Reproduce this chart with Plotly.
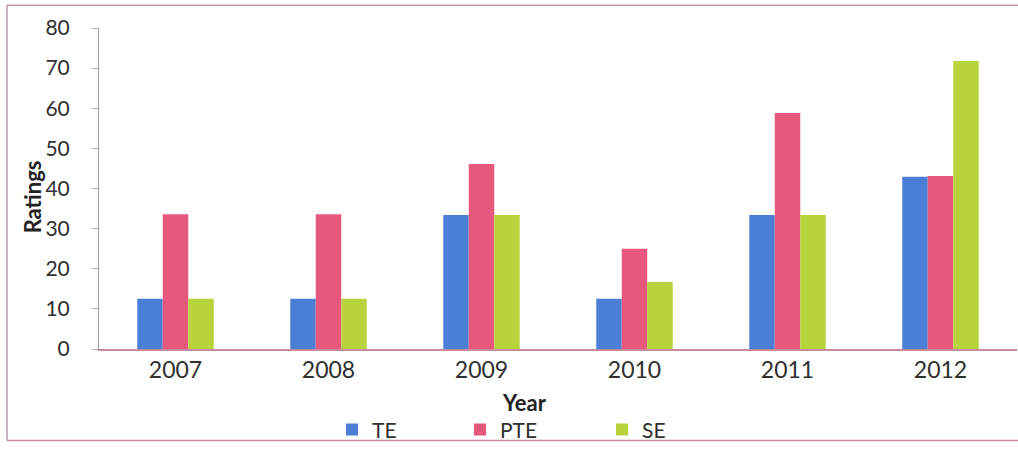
import plotly.graph_objects as go

years = ["2007", "2008", "2009", "2010", "2011", "2012"]
te = [12.5, 12.5, 33.4, 12.5, 33.4, 42.9]
pte = [33.6, 33.6, 46.1, 25.0, 58.8, 43.1]
se = [12.5, 12.5, 33.4, 16.7, 33.4, 71.8]
y_ticks = [0, 10, 20, 30, 40, 50, 60, 70, 80]

FONT = "Lato"
TXT = "#2f2f2f"

L, R, T, B = 99, 1, 28, 97
PW, PH = 1018 - L - R, 451 - T - B


def px(x):
    return (x - L) / PW


def py(y):
    return (451 - B - y) / PH


fig = go.Figure()
fig.add_trace(go.Bar(name="TE", x=years, y=te, marker=dict(color="#4b7fd5", line_width=0), legend="legend"))
fig.add_trace(go.Bar(name="PTE", x=years, y=pte, marker=dict(color="#e8587c", line_width=0), legend="legend2"))
fig.add_trace(go.Bar(name="SE", x=years, y=se, marker=dict(color="#b7d43c", line_width=0), legend="legend3"))

leg_common = dict(orientation="h", yanchor="middle", y=py(436), xanchor="left",
                  font=dict(family=FONT, size=21, color=TXT), bgcolor="rgba(0,0,0,0)",
                  itemwidth=30, borderwidth=0)

fig.update_layout(
    width=1018, height=451,
    margin=dict(l=L, r=R, t=T, b=B),
    paper_bgcolor="white", plot_bgcolor="white",
    barmode="group", bargap=0.5, bargroupgap=0,
    font=dict(family=FONT, color=TXT),
    showlegend=True,
    legend=dict(x=px(332), **leg_common),
    legend2=dict(x=px(460), **leg_common),
    legend3=dict(x=px(602), **leg_common),
    xaxis=dict(
        showline=True, linecolor="#c58a9c", linewidth=1.5,
        ticks="", tickfont=dict(family=FONT, size=23, color=TXT),
        showgrid=False, fixedrange=True,
    ),
    yaxis=dict(
        range=[0, 80], tickvals=y_ticks, showgrid=False, zeroline=False,
        showline=True, linecolor="#a89aa2", linewidth=1,
        ticks="outside", ticklen=6, tickcolor="#c8a0ae",
        tickfont=dict(family=FONT, size=21, color=TXT),
        ticklabelstandoff=18,
    ),
    annotations=[
        dict(text="<b>Ratings</b>", xref="paper", yref="paper", x=px(32), y=py(200), textangle=-90,
             showarrow=False, font=dict(family=FONT, size=22, color="#222"), xanchor="center", yanchor="middle"),
        dict(text="<b>Year</b>", xref="paper", yref="paper", x=px(524), y=py(408),
             showarrow=False, font=dict(family=FONT, size=22, color="#222"), xanchor="center", yanchor="middle"),
    ],
    shapes=[
        dict(type="line", xref="paper", yref="paper", x0=px(7), x1=px(7),
             y0=py(5), y1=py(447), line=dict(color="#b79aab", width=1.5)),
        dict(type="line", xref="paper", yref="paper", x0=px(7), x1=1.01,
             y0=py(5), y1=py(5), line=dict(color="#b79aab", width=1.5)),
        dict(type="line", xref="paper", yref="paper", x0=px(7), x1=1.01,
             y0=py(447), y1=py(447), line=dict(color="#c58a9c", width=1.5)),
    ],
)

fig.write_html("out.html")
